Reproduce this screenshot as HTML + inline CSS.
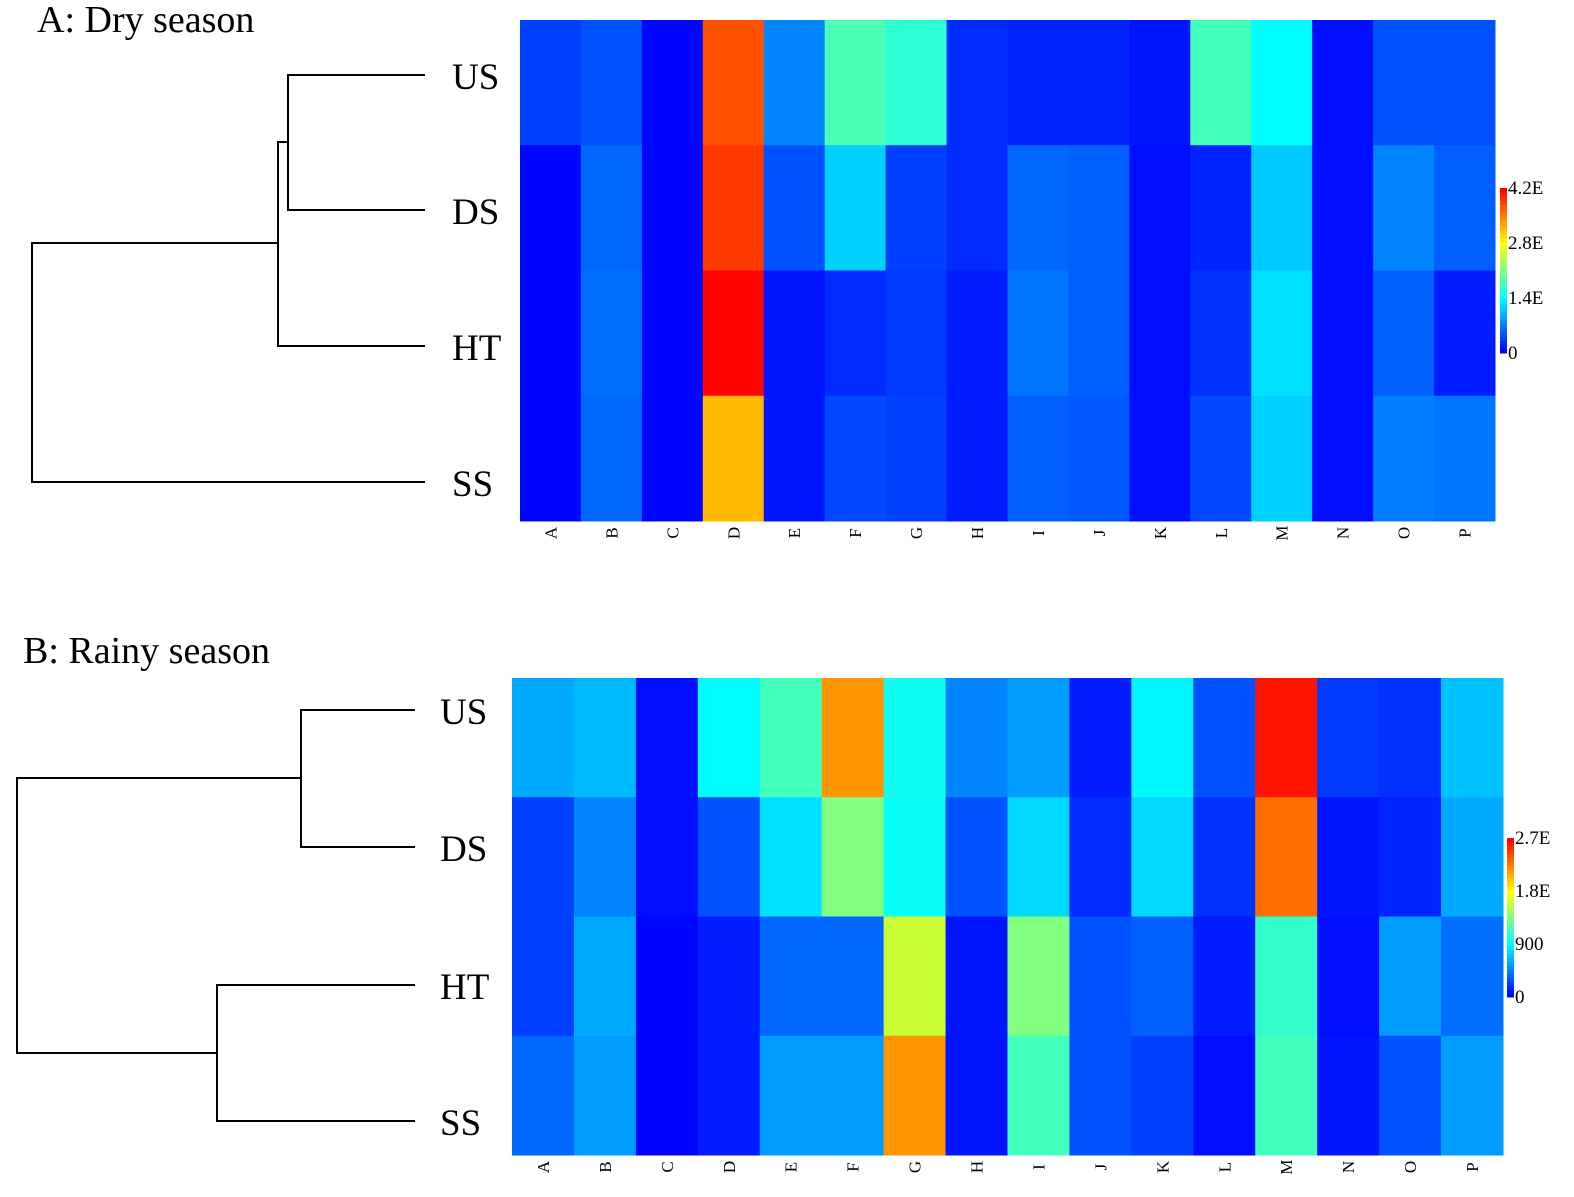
<!DOCTYPE html>
<html><head><meta charset="utf-8"><style>
body{margin:0;background:#fff;width:1574px;height:1192px;overflow:hidden}
svg{font-family:"Liberation Serif",serif}
</style></head><body>
<svg id="s" width="1574" height="1192" xmlns="http://www.w3.org/2000/svg">
<text x="37" y="32" font-size="38">A: Dry season</text>
<text x="23" y="663" font-size="38">B: Rainy season</text>
<g id="dA" stroke="#000" stroke-width="2" fill="none">
<path d="M425 75H288V210H425M288 142H282M282 142H278V346H425M278 243H32V482H425"/>
</g>
<g id="dB" stroke="#000" stroke-width="2" fill="none">
<path d="M415 710H301V847H415M301 778H17V1053H217V985H415M217 1053V1121H415"/>
</g>
</svg>
<script>
const cols=["A","B","C","D","E","F","G","H","I","J","K","L","M","N","O","P"];
const rows=["US","DS","HT","SS"];
const maxA=4200, maxB=2700;
const ticksA=["4.2E","2.8E","1.4E","0"];
const ticksB=["2.7E","1.8E","900","0"];
const valsA_US=[0.08,0.1,0,0.9,0.17,0.43,0.39,0.05,0.04,0.04,0.02,0.42,0.33,0.01,0.1,0.1];
const valsA_DS=[0,0.13,0,0.93,0.1,0.27,0.08,0.05,0.13,0.12,0.01,0.04,0.26,0.01,0.17,0.12];
const valsA_HT=[0,0.14,0,1.0,0.02,0.05,0.07,0.03,0.15,0.12,0.01,0.06,0.29,0.01,0.12,0.03];
const valsA_SS=[0,0.13,0,0.76,0.02,0.09,0.08,0.03,0.12,0.11,0.01,0.09,0.27,0.01,0.16,0.15];
const valsB_US=[0.22,0.24,0.01,0.33,0.42,0.81,0.35,0.17,0.2,0.03,0.32,0.1,0.98,0.07,0.06,0.25];
const valsB_DS=[0.08,0.17,0.01,0.1,0.29,0.5,0.34,0.1,0.28,0.05,0.28,0.06,0.86,0.02,0.04,0.22];
const valsB_HT=[0.08,0.22,0,0.03,0.13,0.13,0.6,0.02,0.5,0.1,0.12,0.03,0.4,0.01,0.2,0.14];
const valsB_SS=[0.13,0.2,0,0.03,0.2,0.2,0.81,0.02,0.42,0.1,0.08,0.01,0.42,0.02,0.1,0.2];
const leafA=[75,210,346,482];
const leafB=[710,847,985,1121];
const NS="http://www.w3.org/2000/svg",S=document.getElementById('s');
function jet(t){t=Math.max(0,Math.min(1,t));const p=0.13+0.74*t;
 const c=x=>Math.round(255*Math.max(0,Math.min(1,x)));
 return `rgb(${c(1.5-Math.abs(4*p-3))},${c(1.5-Math.abs(4*p-2))},${c(1.5-Math.abs(4*p-1))})`;}
function el(t,a,txt){const e=document.createElementNS(NS,t);for(const k in a)e.setAttribute(k,a[k]);if(txt!=null)e.textContent=txt;S.appendChild(e);return e;}
function heat(x0,x1,y0,y1,data,max,leaf,lx,cb,tick,key){
 const cw=(x1-x0)/cols.length,rh=(y1-y0)/rows.length;
 data.forEach((r,ri)=>r.forEach((v,ci)=>{
  const e=el('rect',{x:x0+ci*cw,y:y0+ri*rh,width:cw+0.5,height:rh+0.5,fill:jet(v)});
  
  
 }));
 rows.forEach((r,ri)=>{const e=el('text',{x:lx,y:leaf[ri]+14,'font-size':37},r);
  
  });
 cols.forEach((c,ci)=>{const cx=x0+(ci+0.5)*cw,cy=y1+12;
  const e=el('text',{x:cx,y:cy,'font-size':17,'text-anchor':'middle',transform:`rotate(-90 ${cx} ${cy}) translate(0 6)`},c);
  
  });
 const [bx,by0,by1]=cb;
 for(let i=0;i<40;i++){const e=el('rect',{x:bx,y:by1-(i+1)*(by1-by0)/40,width:7,height:(by1-by0)/40+0.5,fill:jet(i/39)});
  
  }
 tick.forEach((t,i)=>{const e=el('text',{x:bx+8,y:by0+i*(by1-by0)/3+6,'font-size':19},t);
  
  });
}
heat(520,1495,20,521,[valsA_US,valsA_DS,valsA_HT,valsA_SS],maxA,leafA,452,[1500,188,353],ticksA,'a');
heat(512,1503,678,1155,[valsB_US,valsB_DS,valsB_HT,valsB_SS],maxB,leafB,440,[1507,838,997],ticksB,'b');
</script>
</body></html>
